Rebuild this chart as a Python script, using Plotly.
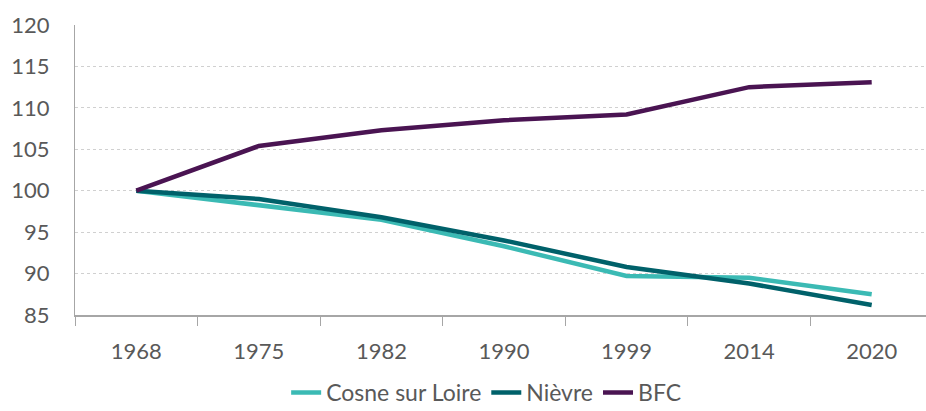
import plotly.graph_objects as go

years = ["1968", "1975", "1982", "1990", "1999", "2014", "2020"]
cosne = [100, 98.3, 96.5, 93.3, 89.7, 89.5, 87.5]
nievre = [100, 99.0, 96.8, 94.0, 90.8, 88.8, 86.2]
bfc = [100, 105.4, 107.3, 108.5, 109.2, 112.5, 113.1]

series = [
    ("Cosne sur Loire", cosne, "#3BBAB4"),
    ("Nièvre", nievre, "#00616A"),
    ("BFC", bfc, "#4A1452"),
]

fig = go.Figure()
for name, vals, col in series:
    fig.add_trace(go.Scatter(x=years, y=vals, mode="lines", name=name,
                             line=dict(color=col, width=4.5)))

font = "Lato, 'Open Sans', sans-serif"
fig.update_layout(
    width=926, height=411,
    margin=dict(l=75, r=0, t=25, b=96, autoexpand=False),
    plot_bgcolor="white", paper_bgcolor="white",
    font=dict(family=font, size=22, color="#595959"),
    showlegend=True,
    legend=dict(orientation="h", xref="container", x=0.525, xanchor="center",
                yref="container", y=0.045, yanchor="middle",
                font=dict(size=23, color="#595959"),
                tracegroupgap=0),
    xaxis=dict(type="category", range=[-0.5, 6.443], showgrid=False,
               showline=True, linecolor="#A6A6A6", linewidth=1.5,
               ticks="outside", tickson="boundaries", ticklen=9, tickcolor="#A6A6A6",
               tickfont=dict(size=22), fixedrange=True, automargin=False,
               ticklabelstandoff=16),
    yaxis=dict(range=[85, 120], dtick=5, showgrid=True, gridcolor="#D0D0D0",
               griddash="dot", gridwidth=1, showline=True, linecolor="#A6A6A6",
               linewidth=1.2, ticks="", zeroline=False, tickfont=dict(size=22),
               ticklabelstandoff=20, automargin=False),
)
fig.write_html("out.html", config={"displayModeBar": False},
               post_script="document.body.style.margin='0';document.body.style.overflow='hidden';")
